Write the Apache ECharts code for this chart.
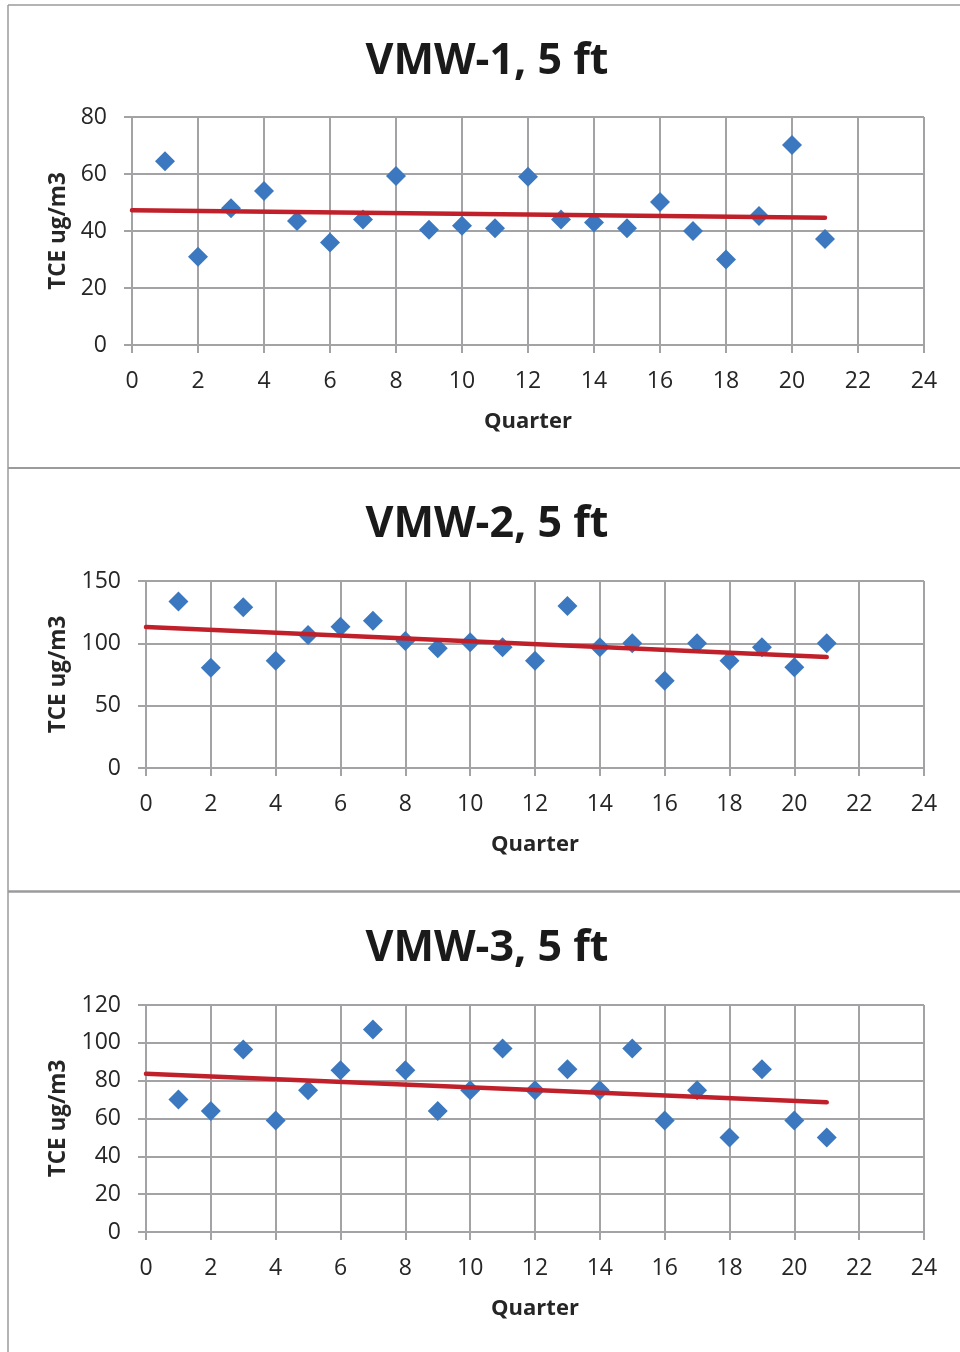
<!DOCTYPE html>
<html><head><meta charset="utf-8">
<script src="https://cdn.jsdelivr.net/npm/echarts@6/dist/echarts.min.js"></script>
<style>html,body{margin:0;padding:0;background:#fff}#c{width:960px;height:1352px}</style>
</head><body><div id="c"></div>
<script>
const quarters = [1,2,3,4,5,6,7,8,9,10,11,12,13,14,15,16,17,18,19,20,21];
const vmw1 = [64.5,31,48,54,43.5,36,44,59.3,40.4,41.8,41,59,44,43,41,50.2,40,30,45.3,70.2,37.2];
const vmw2 = [133.5,80.5,129,86,106.7,113.4,118.2,101.9,96,100.8,96.8,86,130,96.8,100,70,100,86,96.8,80.8,100];
const vmw3 = [70,64,96.5,59,75,85.5,107,85.5,64,75,97,75,86,75,97,59,75,50,86,59,50];
const titles = ['VMW-1, 5 ft','VMW-2, 5 ft','VMW-3, 5 ft'];
const yMax = [80,150,120];
const yInt = [20,50,20];
const xTicks = {min:0,max:24,interval:2};

function trend(xs, ys){
  const n=xs.length; let sx=0,sy=0; xs.forEach((x,i)=>{sx+=x;sy+=ys[i];});
  const mx=sx/n,my=sy/n; let sxy=0,sxx=0;
  xs.forEach((x,i)=>{sxy+=(x-mx)*(ys[i]-my);sxx+=(x-mx)*(x-mx);});
  const b=sxy/sxx,a=my-b*mx;
  return [[0,a],[xs[n-1],a+b*xs[n-1]]];
}
const seriesData=[vmw1,vmw2,vmw3];
const grids=[
  {left:132,top:117,width:792,height:228},
  {left:146,top:581,width:778,height:187},
  {left:146,top:1005,width:778,height:227}
];
const titleTops=[35,498,922];
const gray='#a3a3a6';
const font='"Open Sans", "Noto Sans", sans-serif';
const opt={animation:false,backgroundColor:'#fff',title:[],grid:[],xAxis:[],yAxis:[],series:[],
 graphic:[
  {type:'line',shape:{x1:8,y1:5,x2:960,y2:5},style:{stroke:'#9b9b9e',lineWidth:1.5}},
  {type:'line',shape:{x1:8,y1:5,x2:8,y2:1352},style:{stroke:'#9b9b9e',lineWidth:1.5}},
  {type:'line',shape:{x1:8,y1:468,x2:960,y2:468},style:{stroke:'#9b9b9e',lineWidth:2}},
  {type:'line',shape:{x1:8,y1:891.5,x2:960,y2:891.5},style:{stroke:'#9b9b9e',lineWidth:2.5}}
 ]};
for(let i=0;i<3;i++){
  opt.title.push({text:titles[i],left:482,textAlign:'center',top:titleTops[i],textStyle:{fontFamily:font,fontWeight:'bold',fontSize:43,color:'#1a1a1a'}});
  opt.grid.push(Object.assign({containLabel:false},grids[i]));
  opt.xAxis.push({type:'value',gridIndex:i,min:xTicks.min,max:xTicks.max,interval:xTicks.interval,
    name:'Quarter',nameLocation:'middle',nameGap:66,
    nameTextStyle:{fontFamily:font,fontWeight:'bold',fontSize:22,color:'#262626'},
    axisLine:{show:true,lineStyle:{color:gray,width:2}},
    axisTick:{show:true,length:8,lineStyle:{color:gray,width:2}},
    axisLabel:{fontFamily:font,fontSize:23,color:'#262626',margin:25},
    splitLine:{show:true,lineStyle:{color:gray,width:2}}});
  opt.yAxis.push({type:'value',gridIndex:i,min:0,max:yMax[i],interval:yInt[i],
    name:'TCE ug/m3',nameLocation:'middle',nameGap:i===0?62:76,
    nameTextStyle:{fontFamily:font,fontWeight:'bold',fontSize:22.5,color:'#262626'},
    axisLine:{show:true,lineStyle:{color:gray,width:2}},
    axisTick:{show:true,length:8,lineStyle:{color:gray,width:2}},
    axisLabel:{fontFamily:font,fontSize:23,color:'#262626',margin:25},
    splitLine:{show:true,lineStyle:{color:gray,width:2}}});
  opt.series.push({type:'scatter',xAxisIndex:i,yAxisIndex:i,symbol:'diamond',symbolSize:[20,20],
    itemStyle:{color:'#3b78bf',opacity:1},z:3,data:quarters.map((q,k)=>[q,seriesData[i][k]])});
  opt.series.push({type:'line',xAxisIndex:i,yAxisIndex:i,showSymbol:false,symbol:'none',z:4,
    lineStyle:{color:'#c0202a',width:4.5,cap:'round'},data:trend(quarters,seriesData[i])});
}
echarts.init(document.getElementById('c'),null,{renderer:'canvas'}).setOption(opt);
</script></body></html>
